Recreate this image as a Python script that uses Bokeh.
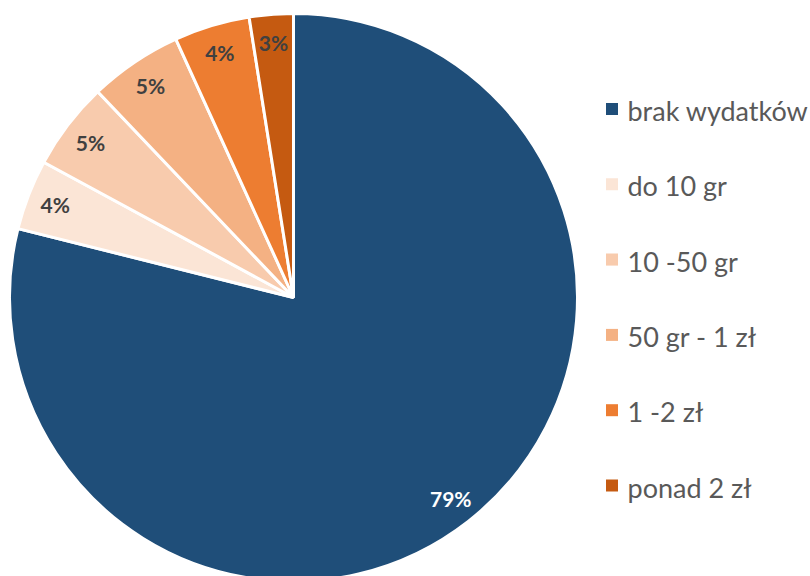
import math
from bokeh.plotting import figure
from bokeh.models import ColumnDataSource
from bokeh.core.properties import value
from bokeh.embed import file_html
from bokeh.resources import INLINE

categories = ["brak wydatków", "do 10 gr", "10 -50 gr", "50 gr - 1 zł", "1 -2 zł", "ponad 2 zł"]
shares = [78.9, 4.0, 5.0, 5.3, 4.3, 2.5]
labels = ["79%", "4%", "5%", "5%", "4%", "3%"]
colors = ["#1F4E79", "#FBE5D6", "#F8CBAD", "#F4B183", "#ED7D31", "#C55A11"]
label_colors = ["#FFFFFF", "#404040", "#404040", "#404040", "#404040", "#404040"]

W, H = 810, 576
cx, cy, R = 293, 279, 284

total = sum(shares)
starts, ends, lx, ly = [], [], [], []
cum = 0.0
for s in shares:
    a0 = math.pi / 2 - 2 * math.pi * cum / total
    cum += s
    a1 = math.pi / 2 - 2 * math.pi * cum / total
    starts.append(a0)
    ends.append(a1)
    mid = (a0 + a1) / 2
    lx.append(cx + 0.9 * R * math.cos(mid))
    ly.append(cy + 0.9 * R * math.sin(mid))

src = ColumnDataSource(dict(cat=categories, start=starts, end=ends, color=colors,
                            lx=lx, ly=ly, lab=labels, lcol=label_colors))

p = figure(width=W, height=H, x_range=(0, W), y_range=(0, H), output_backend="svg",
           toolbar_location=None, min_border=0)
p.axis.visible = False
p.grid.visible = False
p.outline_line_color = None
p.background_fill_color = "white"
p.border_fill_color = "white"

p.wedge(x=cx, y=cy, radius=R, start_angle="start", end_angle="end", direction="clock",
        fill_color="color", line_color="white", line_width=3, source=src)

p.text(x="lx", y="ly", text="lab", text_color="lcol", source=src,
       text_font=value("Lato"), text_font_style="bold", text_font_size="21px",
       text_align="center", text_baseline="middle")

# legend
leg_x = 611.5
sq_y0 = 467.5
step = 75.3
sq_ys = [sq_y0 - i * step for i in range(len(categories))]
tx_ys = [y - 1.5 for y in sq_ys]
lsrc = ColumnDataSource(dict(sy=sq_ys, ty=tx_ys, cat=categories, color=colors))
p.rect(x=leg_x, y="sy", width=12, height=12, fill_color="color", line_color=None, source=lsrc)
p.text(x=627, y="ty", text="cat", source=lsrc, text_color="#595959",
       text_font=value("Lato"), text_font_size="27px", text_baseline="middle")

open("out.html", "w").write(file_html(p, INLINE))
